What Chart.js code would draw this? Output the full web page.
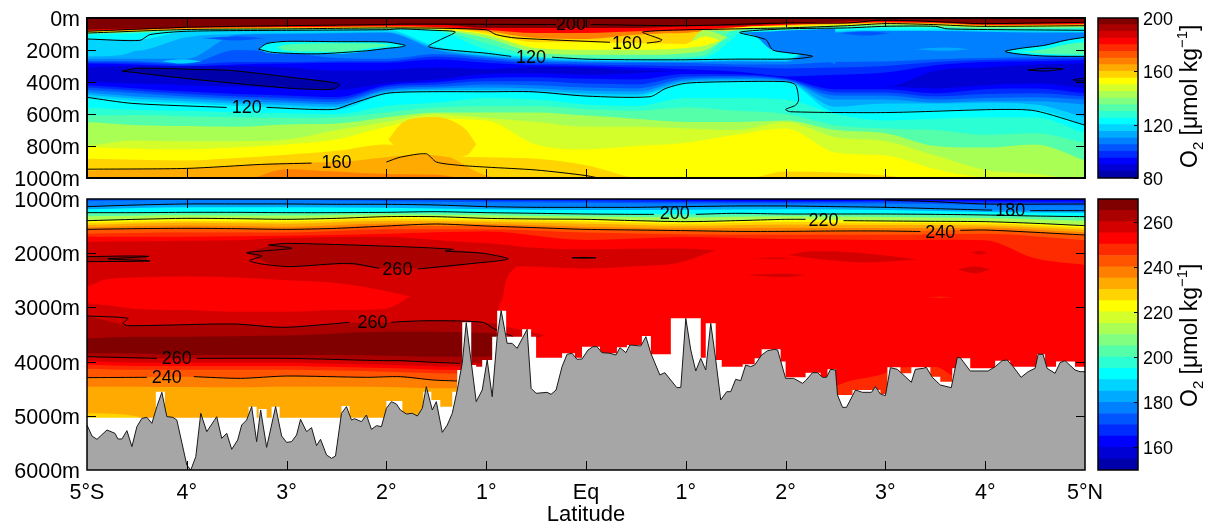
<!DOCTYPE html>
<html>
<head>
<meta charset="utf-8">
<title>O2 section</title>
<script src="https://cdn.jsdelivr.net/npm/chart.js@4"></script>
<style>
  html, body { margin: 0; padding: 0; background: #fff; width: 1215px; height: 524px; overflow: hidden; }
  canvas { position: absolute; }
</style>
</head>
<body>
<canvas id="upperChart" width="1130" height="204" style="left:0px;top:-4px"></canvas>
<canvas id="lowerChart" width="1130" height="347" style="left:0px;top:177px"></canvas>
<canvas id="upperBar" width="123" height="204" style="left:1092px;top:-4px"></canvas>
<canvas id="lowerBar" width="123" height="347" style="left:1092px;top:177px"></canvas>
<script>
// tick labels
const latLabels = ['5°S', '4°', '3°', '2°', '1°', 'Eq', '1°', '2°', '3°', '4°', '5°N'];

// colour levels, 24 steps of 5 umol/kg
const jet24 = ['#0000AA', '#0000D4', '#0000FF', '#002BFF', '#0055FF', '#0080FF', '#00AAFF', '#00D4FF',
    '#00FFFF', '#2BFFD4', '#55FFAA', '#80FF80', '#AAFF55', '#D4FF2B', '#FFFF00', '#FFD400',
    '#FFAA00', '#FF8000', '#FF5500', '#FF2B00', '#FF0000', '#D40000', '#AA0000', '#800000'];
const upperLevels = [80, 200];
const lowerLevels = [150, 270];

// stations, every half degree
const lats = [-5, -4.5, -4, -3.5, -3, -2.5, -2, -1.5, -1, -.5, 0, .5, 1, 1.5, 2, 2.5, 3, 3.5, 4, 4.5, 5];
const wholeLats = [-5, -4, -3, -2, -1, 0, 1, 2, 3, 4, 5];

// upper panel 0-1000m: depth where each colour starts, surface downwards
const up21 = [73, 66, 56, 52, 50, 47, 44, 42, 62, 62, 62, 62, 52, 48, 34, 25, 16, 22, 34, 32, 28];
const up18 = [80, 72, 62, 58, 56, 54, 52, 56, 73, 94, 94, 83, 77, 58, 42, 33, 26, 30, 42, 40, 38];
const up16 = [84, 76, 66, 62, 60, 58, 56, 62, 83, 125, 131, 104, 94, 60, 46, 38, 30, 34, 46, 44, 42];
const up15 = [87, 80, 70, 65, 63, 62, 60, 66, 95, 152, 152, 157, 163, 62, 50, 42, 34, 38, 50, 48, 46];
const up13 = [90, 84, 72, 68, 66, 65, 62, 70, 104, 188, 199, 199, 188, 68, 55, 46, 38, 44, 54, 52, 50];
const up11 = [93, 88, 74, 71, 69, 68, 66, 74, 125, 215, 230, 230, 220, 77, 62, 52, 44, 50, 60, 58, 56];
const up10 = [96, 92, 76, 74, 72, 70, 68, 78, 157, 240, 251, 251, 245, 83, 70, 58, 52, 56, 66, 64, 62];
const up9 = [104, 96, 78, 77, 75, 73, 71, 82, 199, 245, 255, 258, 258, 89, 78, 66, 62, 64, 72, 72, 72];
const up8 = [131, 135, 84, 82, 78, 76, 74, 180, 224, 245, 257, 261, 261, 257, 258, 80, 74, 72, 78, 82, 84];
const up7 = [210, 205, 120, 100, 95, 92, 88, 190, 235, 255, 265, 270, 270, 265, 268, 88, 85, 85, 90, 95, 95];
const up6 = [255, 255, 255, 105, 100, 95, 92, 200, 240, 262, 272, 275, 275, 272, 275, 92, 82, 82, 86, 90, 90];
const up5 = [268, 270, 285, 200, 215, 250, 255, 225, 250, 272, 278, 280, 282, 290, 290, 275, 272, 258, 250, 245, 240];
const up4 = [278, 280, 292, 275, 275, 270, 270, 240, 262, 285, 290, 295, 300, 305, 315, 310, 300, 275, 262, 258, 252];
const up3 = [285, 290, 300, 290, 285, 280, 280, 260, 280, 295, 300, 310, 320, 335, 365, 355, 340, 295, 275, 270, 262];
const up2 = [310, 300, 300, 300, 310, 330, 325, 310, 320, 305, 310, 325, 330, 340, 370, 430, 430, 330, 310, 290, 285];
const down3 = [400, 410, 420, 430, 440, 450, 410, 385, 350, 345, 355, 345, 330, 340, 370, 430, 430, 440, 420, 410, 440];
const down4 = [420, 440, 460, 475, 485, 495, 420, 400, 375, 370, 380, 385, 350, 352, 376, 445, 445, 470, 445, 440, 470];
const down5 = [435, 455, 475, 490, 500, 510, 432, 415, 395, 395, 410, 415, 365, 362, 382, 465, 465, 490, 475, 470, 490];
const down6 = [450, 470, 490, 505, 515, 525, 445, 430, 415, 420, 435, 440, 380, 372, 388, 485, 485, 510, 500, 495, 510];
const down7 = [465, 490, 505, 520, 530, 540, 455, 440, 435, 440, 455, 460, 390, 382, 392, 510, 510, 530, 520, 520, 540];
const down8 = [480, 505, 520, 535, 545, 555, 465, 450, 450, 455, 472, 478, 400, 390, 395, 555, 535, 535, 530, 540, 620];
const down9 = [496, 520, 535, 550, 560, 572, 475, 461, 461, 467, 488, 492, 408, 398, 400, 586, 586, 578, 572, 576, 670];
const down10 = [560, 575, 580, 590, 595, 600, 550, 530, 500, 510, 540, 550, 500, 500, 510, 600, 640, 630, 620, 620, 720];
const down11 = [610, 607, 615, 620, 625, 620, 590, 560, 550, 550, 570, 580, 560, 580, 600, 670, 690, 700, 730, 720, 780];
const down13 = [650, 670, 675, 680, 665, 660, 620, 590, 590, 590, 610, 630, 650, 650, 640, 700, 720, 800, 810, 790, 890];
const down14 = [800, 765, 770, 770, 760, 700, 650, 600, 625, 650, 680, 680, 690, 700, 650, 745, 770, 860, 950, 975, 1020];
const down15 = [806, 817, 820, 810, 790, 760, 680, 630, 640, 790, 820, 800, 780, 730, 690, 840, 860, 945, 1000, 1020, 1020];
const down16 = [880, 886, 890, 875, 855, 830, 790, 860, 870, 880, 920, 1000, 1020, 1020, 960, 965, 985, 1020, 1020, 1020, 1020];
const down17 = [953, 943, 940, 925, 905, 900, 870, 849, 985, 1020, 1020, 1020, 1020, 1020, 1020, 1020, 1020, 1020, 1020, 1020, 1020];
const down18 = [1020, 1020, 1020, 1020, 945, 960, 975, 980, 1020, 1020, 1020, 1020, 1020, 1020, 1020, 1020, 1020, 1020, 1020, 1020, 1020];

// upper panel patches
const tongueLat = [1.55, 1.7, 1.85, 2.0, 2.27, 2.5];
const tongueTop = [92, 88, 84, 78, 72, 66];
const tongueBottom = [92, 115, 195, 215, 238, 290];
const goldHumpLat = [-1.98, -1.85, -1.7, -1.5, -1.35, -1.2, -1.1];
const goldHumpTop = [760, 660, 625, 618, 640, 700, 790];
const goldHumpBottom = [760, 840, 850, 860, 870, 860, 790];
const tip10Lat = [1, 1.2, 1.55];
const tip10Top = [245, 80, 85];
const tip10Bottom = [250, 245, 85];
const tip11Lat = [1, 1.18, 1.45];
const tip11Top = [220, 78, 80];
const tip11Bottom = [245, 235, 80];
const tip13Lat = [1, 1.18, 1.42];
const tip13Top = [188, 75, 120];
const tip13Bottom = [220, 205, 120];
const tip15Lat = [1, 1.2, 1.34];
const tip15Top = [163, 115, 140];
const tip15Bottom = [188, 170, 140];
const tip16Lat = [.7, .85, .98];
const tip16Top = [100, 96, 110];
const tip16Bottom = [118, 128, 110];
const lensALat = [-3.28, -3.2, -3, -2.5, -2, -1.85, -1.81];
const lensATop = [195, 160, 146, 148, 150, 165, 172];
const lensABottom = [195, 215, 222, 224, 190, 182, 172];
const lensAInnerLat = [-3.1, -3, -2.5, -2.1, -1.95];
const lensAInnerTop = [185, 165, 158, 160, 172];
const lensAInnerBottom = [185, 205, 212, 185, 172];
const lensBLat = [4.2, 4.35, 4.6, 4.8, 5];
const lensBTop = [209, 190, 170, 140, 120];
const lensBBottom = [209, 225, 235, 238, 240];
const lensBInnerLat = [4.35, 4.6, 4.8, 5];
const lensBInnerTop = [210, 195, 165, 150];
const lensBInnerBottom = [210, 225, 228, 230];
const patchCyanLat = [-4.25, -4.05, -3.85];
const patchCyanTop = [270, 258, 272];
const patchCyanBottom = [270, 285, 272];
const patchLeftLat = [-5, -4.7, -4.45];
const patchLeftTop = [150, 150, 190];
const patchLeftBottom = [240, 235, 190];
const patchBlueLat = [3.3, 3.6, 3.85];
const patchBlueTop = [195, 185, 195];
const patchBlueBottom = [195, 205, 195];
const patchDarkLat = [2.55, 2.8, 3.05];
const patchDarkTop = [95, 85, 95];
const patchDarkBottom = [95, 110, 95];
const patchDark2Lat = [-3.85, -3.5, -3.2];
const patchDark2Top = [125, 115, 125];
const patchDark2Bottom = [125, 140, 125];
const coreLat = [-4.65, -4.49, -3.87, -3.54, -2.87, -2.54, -2.47];
const coreTop = [332, 314, 322, 329, 377, 400, 419];
const coreBottom = [332, 345, 387, 405, 440, 446, 419];

// upper panel contours, null = gap for the label
const c200Lat = [-5, -4, -3, -2, -1.86, -.3, -.15, .05, 1, 2, 2.62, 2.95, 3.48, 3.95, 5];
const c200Depth = [83, 58, 48, 41, 38, 41, null, 41, 48, 31, 31, 14, 22, 35, 27];
const c160Lat = [-5, -4, -3, -1.86, -1, -.9, -.7, .24, .41, .61, .74, .76, .57, 1.5, 2, 2.62, 3, 3.48, 3.95, 5];
const c160Depth = [94, 72, 68, 62, 73, 104, 125, 152, null, 157, 146, 136, 87, 68, 62, 48, 35, 41, 52, 48];
const c120aLat = [5, 3.62, 3.5, 3, 2.62, 2, 1.54, 1.8, 1.87, 2, 2.2, 2.27, 2.15, 2, 1.5, 1, .5, 0, -.34, -.55, -.75, -1, -1.38, -1.58, -1.46, -1.31, -1.53, -1.86, -2, -3, -4, -4.37, -4.47, -5];
const c120aDepth = [77, 68, 52, 52, 62, 68, 90, 135, 199, 215, 230, 240, 252, 257, 257, 261, 261, 257, 245, null, 240, 220, 199, 178, 136, 87, 77, 68, 73, 77, 83, 104, 140, 131];
const c120bLat = [-5, -4.54, -3.6, -3.4, -3.2, -2.53, -2.34, -2, -1.6, -1, -.53, 0, .64, .8, 1, 1.47, 2, 2.1, 2.13, 2.1, 2, 2.05, 3, 4.12, 4.5, 5];
const c120bDepth = [496, 534, 559, null, 559, 572, 534, 471, 461, 461, 461, 488, 492, 440, 408, 398, 398, 419, 513, 545, 572, 586, 591, 572, 580, 670];
const c160bLat = [-5, -4, -3.25, -2.75, -2.25, -2, -1.86, -1.6, -1.5, -1.28, -1, -.5, 0, .2];
const c160bDepth = [945, 940, 915, 907, null, 900, 870, 849, 900, 920, 932, 950, 985, 1010];
const ringALat = [-3.28, -3.2, -3, -2.5, -2, -1.85, -1.81, -1.87, -2, -2.2, -2.7, -3.14, -3.28];
const ringADepth = [195, 160, 146, 148, 150, 165, 172, 182, 190, 205, 224, 215, 195];
const ringBLat = [-4.65, -4.49, -3.87, -3.54, -2.87, -2.49, -2.47, -2.54, -2.94, -3.87, -4.65];
const ringBDepth = [332, 314, 322, 329, 377, 408, 419, 446, 440, 387, 332];
const ringCLat = [5, 4.8, 4.6, 4.35, 4.2, 4.35, 4.6, 5];
const ringCDepth = [120, 140, 170, 190, 209, 226, 238, 240];
const ringDLat = [4.43, 4.6, 4.78, 4.6, 4.43];
const ringDDepth = [325, 314, 318, 332, 325];
const ringELat = [5, 4.94, 4.88, 4.94, 5];
const ringEDepth = [380, 380, 387, 394, 392];

// lower panel 1000-6000m: thermocline colours on whole degrees
const low3 = [990, 990, 990, 990, 990, 990, 1005, 1020, 1005, 1015, 1020];
const low4 = [990, 990, 990, 990, 1000, 1005, 1030, 1040, 1030, 1040, 1045];
const low5 = [990, 990, 990, 1000, 1030, 1040, 1055, 1060, 1050, 1070, 1075];
const low6 = [1040, 1020, 1020, 1040, 1060, 1070, 1085, 1085, 1085, 1110, 1120];
const low7 = [1141, 1092, 1092, 1098, 1141, 1154, 1141, 1129, 1154, 1203, 1215];
const low9 = [1190, 1150, 1150, 1160, 1190, 1205, 1200, 1190, 1205, 1240, 1255];
const low11 = [1252, 1246, 1252, 1246, 1252, 1277, 1283, 1277, 1277, 1295, 1326];
const low13 = [1320, 1300, 1305, 1285, 1300, 1325, 1340, 1320, 1330, 1350, 1400];
const low15 = [1400, 1357, 1375, 1326, 1357, 1375, 1418, 1375, 1406, 1418, 1492];
const low16 = [1440, 1400, 1415, 1360, 1385, 1415, 1455, 1420, 1445, 1450, 1530];
const low17 = [1480, 1440, 1455, 1400, 1420, 1455, 1495, 1470, 1480, 1490, 1570];
const low18 = [1520, 1490, 1510, 1450, 1460, 1510, 1540, 1530, 1535, 1530, 1615];
const low19 = [1560, 1541, 1560, 1498, 1498, 1560, 1584, 1597, 1590, 1572, 1664];
const low20 = [1640, 1620, 1620, 1560, 1560, 1620, 1650, 1660, 1660, 1640, 1760];
const low21Lat = [-5, -4, -3, -2, -1, 0, 1, 2, 3, 3.5, 4, 4.5, 5];
const low21Depth = [1695, 1695, 1680, 1640, 1600, 1756, 1700, 1740, 1756, 1750, 1760, 2095, 2217];

// lower panel west side, deep water
const westLat = [-5, -4.5, -4, -3.5, -3, -2.5, -2, -1.5, -1, -.9, -.88, -.85, -.8, -.7];
const westTop = [1790, 1780, 1770, 1760, 1720, 1700, 1695, 1756, 1818, 1830, 1835, 1840, 1850, 1870];
const westBottom = [7000, 7000, 7000, 7000, 7000, 7000, 7000, 7000, 7000, 7000, 3100, 2900, 2500, 2240];
const westRedLat = [-5, -4.8, -4.5, -4, -3.5, -3, -2.5, -2, -1.76];
const westRedTop = [2620, 2480, 2450, 2430, 2450, 2500, 2550, 2700, 2800];
const westRedBottom = [2925, 2960, 3030, 3050, 3080, 3080, 3050, 3020, 2800];
const deepLat = [-5, -4.5, -4, -3.5, -3, -2.5, -2, -1.5, -.9];
const deep23 = [3158, 3337, 3320, 3306, 3368, 3300, 3276, 3245, 3300];
const deep24 = [3570, 3540, 3540, 3530, 3520, 3480, 3450, 3450, 3480];
const deep23b = [3847, 3850, 3878, 3878, 3878, 3878, 3890, 3909, 3909];
const deep22 = [3909, 3940, 3940, 3940, 3940, 3950, 3980, 4013, 4030];
const deep21 = [3990, 4020, 4020, 4020, 4020, 4040, 4060, 4090, 4100];
const deep20 = [4060, 4080, 4080, 4080, 4080, 4100, 4120, 4150, 4160];
const deep19 = [4130, 4150, 4150, 4150, 4150, 4165, 4185, 4215, 4230];
const deep18 = [4296, 4290, 4278, 4309, 4266, 4285, 4280, 4340, 4358];
const deep17 = [4462, 4462, 4470, 4475, 4462, 4462, 4470, 4493, 4493];
const deep16 = [4954, 5010, 7000, 7000, 7000, 7000, 7000, 7000, 7000];
const tongueRedLat = [-.9, -.7, -.41];
const tongueRedTop = [3300, 3400, 3510];
const tongueRedBottom = [3800, 3700, 3510];

// lower panel lenses
const eqLensLat = [-1, -.7, -.5, 0, .5, .93, 1.3];
const eqLensTop = [1818, 1870, 1900, 1929, 1920, 1915, 1945];
const eqLensBottom = [2250, 2240, 2250, 2280, 2240, 2175, 1945];
const midLensLat = [-3.4, -3.18, -3, -2.5, -2, -1.5, -1.03, -.78];
const midLensTop = [1990, 1870, 1818, 1840, 1870, 1920, 2002, 2107];
const midLensBottom = [1990, 2190, 2248, 2200, 2279, 2270, 2170, 2107];
const leftLensLat = [-5, -4.8, -4.4];
const leftLensTop = [2064, 2058, 2050];
const leftLensBottom = [2156, 2150, 2146];
const eastP1Lat = [2.02, 2.28, 2.78, 3.32];
const eastP1Top = [2030, 1960, 2000, 2115];
const eastP1Bottom = [2030, 2100, 2170, 2115];
const eastP2Lat = [1.6, 2, 2.2];
const eastP2Top = [2400, 2380, 2400];
const eastP2Bottom = [2400, 2440, 2400];
const eastP3Lat = [3.72, 3.9, 4.05];
const eastP3Top = [2300, 2245, 2300];
const eastP3Bottom = [2300, 2370, 2300];
const eastP4Lat = [3.85, 3.95, 4.02];
const eastP4Top = [1990, 1960, 1990];
const eastP4Bottom = [1990, 2020, 1990];
const eastP5Lat = [1.67, 1.9, 2.1];
const eastP5Top = [2095, 2080, 2095];
const eastP5Bottom = [2095, 2110, 2095];
const eastP6Lat = [3.4, 3.55, 3.68];
const eastP6Top = [2815, 2805, 2815];
const eastP6Bottom = [2815, 2825, 2815];
const floorOrangeLat = [2.45, 2.6, 3, 3.1, 3.5, 3.7];
const floorOrangeTop = [4500, 4380, 4210, 4110, 4100, 4300];
const floorOrangeBottom = [4700, 4700, 4700, 4700, 4700, 4700];

// lower panel contours
const c170LowLat = [3, 3.5, 4, 5];
const c170LowDepth = [1018, 1050, 1092, 1092];
const c180LowLat = [-5, -4.5, -4, -3.5, -3, -2.5, -2, -1.5, -1, -.5, 0, .5, 1, 1.5, 2, 2.5, 3, 3.5, 4, 4.07, 4.25, 4.45, 5];
const c180LowDepth = [1141, 1111, 1092, 1092, 1092, 1098, 1098, 1111, 1141, 1154, 1154, 1154, 1141, 1129, 1129, 1141, 1154, 1178, 1203, 1205, null, 1215, 1215];
const c200LowLat = [-5, -4.5, -4, -3.5, -3, -2.5, -2, -1.5, -1, -.5, 0, .5, .68, .9, 1.1, 1.5, 2, 2.5, 3, 3.5, 4, 4.5, 5];
const c200LowDepth = [1252, 1252, 1246, 1246, 1252, 1252, 1246, 1234, 1252, 1264, 1277, 1283, 1283, null, 1283, 1264, 1277, 1277, 1277, 1283, 1295, 1314, 1326];
const c220LowLat = [-5, -4.5, -4, -3.5, -3, -2.5, -2, -1.5, -1, -.5, 0, .5, 1, 1.5, 2, 2.2, 2.38, 2.58, 3, 3.5, 4, 4.5, 5];
const c220LowDepth = [1400, 1375, 1357, 1363, 1375, 1357, 1326, 1326, 1357, 1369, 1375, 1400, 1418, 1400, 1375, 1375, null, 1400, 1406, 1412, 1418, 1449, 1492];
const c240LowLat = [-5, -4.5, -4, -3.5, -3, -2.5, -2, -1.5, -1, -.5, 0, .5, 1, 1.5, 2, 2.5, 3, 3.35, 3.55, 3.75, 4, 4.5, 5];
const c240LowDepth = [1560, 1547, 1541, 1547, 1560, 1541, 1498, 1461, 1498, 1529, 1560, 1572, 1584, 1597, 1597, 1590, 1590, 1600, null, 1578, 1572, 1615, 1664];
const c260aLat = [-5, -4.59, -4.64, -4.59, -3.53, -3.03, -2.37, -2.14, -1.95, -1.86, -1.53, -1.03, -.93, -.73];
const c260aDepth = [3158, 3201, 3294, 3337, 3306, 3368, 3276, null, 3276, 3263, 3245, 3276, 3386, 3540];
const c260bLat = [-5, -4.3, -4.1, -3.9, -3, -2.03, -1.86, -1.53, -1.26];
const c260bDepth = [3909, 3940, null, 3940, 3940, 3983, 3983, 4013, 4032];
const c240bLat = [-5, -4.4, -4.2, -3.93, -3.46, -3, -2.2, -1.86, -1.53, -1.29];
const c240bDepth = [4296, 4290, null, 4278, 4309, 4266, 4290, 4278, 4340, 4358];
const ringFLat = [-3.18, -3, -1.86, -1.33, -1.41, -1.03, -.78, -1.19, -1.69, -1.89, -2.07, -2.37, -2.97, -3.25, -3.37, -3.25, -3.4, -2.95, -3.18];
const ringFDepth = [1849, 1818, 1879, 1929, 1959, 2002, 2107, 2199, 2292, null, 2279, 2187, 2248, 2199, 2138, 2052, 1990, 1910, 1849];
const ringGLat = [-5, -4.6, -4.38, -4.6, -4.79];
const ringGDepth = [2064, 2052, 2058, 2085, 2100];
const ringHLat = [-4.79, -4.37, -5];
const ringHDepth = [2107, 2144, 2156];
const ringILat = [-.14, 0, .1, 0, -.14];
const ringIDepth = [2085, 2078, 2085, 2092, 2085];

// edge of the sampled field, each depth holds until the next latitude
const fieldLat = [-5, -4.31, -4.22, -3.38, -3.3, -3.28, -3.2, -3.15, -3.07, -2.45, -2.37, -2, -1.84, -1.63, -1.55, -1.46, -1.34, -1.29, -1.24, -1.15, -1.1, -1.04, -.94, -.89, -.8, -.64, -.55, -.5, -.24, -.11, -.04, .14, .31, .41, .56, .65, .85, 1.15, 1.2, 1.3, 1.36, 1.57, 1.69, 1.76, 1.95, 2, 2.2, 2.35, 2.42, 2.5, 2.67, 2.95, 3.02, 3.15, 3.26, 3.45, 3.55, 3.67, 3.72, 3.85, 4.1, 4.25, 4.52, 4.6, 4.71, 4.9, 5];
const fieldDepth = [5034, 4555, 5034, 4831, 5034, 4875, 5034, 4831, 5034, 4820, 5034, 4727, 5016, 4555, 4708, 4831, 4555, 4155, 3276, 4063, 4093, 3970, 3540, 3060, 3540, 3405, 3540, 3927, 3847, 3927, 3724, 3847, 3737, 3694, 3527, 3866, 3202, 3927, 3294, 3970, 4093, 4050, 3940, 3774, 4000, 4290, 4204, 4290, 4143, 4616, 4524, 4598, 4106, 4216, 4106, 4278, 4370, 4124, 3940, 4124, 3983, 4093, 3866, 4093, 4000, 4093, 4093];

// sea floor
const floorLat = [-5, -4.95, -4.9, -4.8, -4.72, -4.69, -4.65, -4.6, -4.55, -4.5, -4.45, -4.4, -4.35, -4.3, -4.25, -4.2, -4.14, -4.1, -4, -3.96, -3.91, -3.86, -3.8, -3.7, -3.65, -3.6, -3.55, -3.49, -3.45, -3.4, -3.35, -3.3, -3.26, -3.2, -3.11, -3.05, -3, -2.95, -2.9, -2.86, -2.8, -2.75, -2.7, -2.66, -2.6, -2.55, -2.51, -2.45, -2.4, -2.35, -2.32, -2.25, -2.2, -2.15, -2.1, -2.05, -2, -1.95, -1.9, -1.86, -1.8, -1.74, -1.69, -1.64, -1.6, -1.54, -1.5, -1.44, -1.39, -1.34, -1.29, -1.24, -1.2, -1.14, -1.1, -1.04, -.99, -.94, -.89, -.85, -.79, -.74, -.69, -.59, -.55, -.5, -.39, -.35, -.3, -.24, -.19, -.14, -.09, -.04, .02, .07, .11, .16, .24, .3, .34, .4, .44, .55, .6, .65, .74, .79, .91, .95, 1, 1.05, 1.1, 1.15, 1.2, 1.25, 1.3, 1.35, 1.41, 1.45, 1.5, 1.55, 1.6, 1.65, 1.69, 1.76, 1.82, 1.89, 1.92, 2, 2.08, 2.17, 2.2, 2.27, 2.32, 2.37, 2.41, 2.45, 2.5, 2.52, 2.57, 2.61, 2.7, 2.77, 2.86, 2.9, 2.95, 3, 3.05, 3.12, 3.26, 3.3, 3.38, 3.41, 3.47, 3.55, 3.66, 3.72, 3.75, 3.85, 4.03, 4.1, 4.17, 4.22, 4.28, 4.36, 4.43, 4.5, 4.53, 4.58, 4.62, 4.7, 4.75, 4.8, 4.9, 4.95, 5];
const floorDepth = [5170, 5373, 5434, 5262, 5323, 5428, 5428, 5274, 5569, 5200, 5047, 5028, 5139, 4831, 4567, 5015, 5028, 5077, 5908, 6000, 5754, 4954, 5293, 5016, 5416, 5323, 5618, 5446, 5170, 5077, 4831, 5477, 4893, 5582, 4831, 5373, 5490, 5477, 5354, 5065, 5293, 5219, 5551, 5434, 5723, 5784, 5742, 4954, 4831, 5077, 5053, 5108, 4985, 5250, 5182, 5200, 4862, 4739, 4782, 4893, 4967, 4954, 5004, 4862, 4462, 4893, 4739, 5305, 5170, 4954, 4524, 4032, 3282, 4155, 4739, 4524, 3970, 4647, 3540, 3061, 3663, 3663, 3755, 3405, 4493, 4585, 4567, 4604, 4524, 4093, 3866, 3847, 3958, 3952, 3786, 3724, 3724, 3835, 3847, 3878, 3743, 3835, 3694, 3712, 3540, 3847, 4247, 4204, 4481, 4475, 3202, 3786, 4173, 3940, 4155, 3294, 3970, 4708, 4555, 4555, 4327, 4352, 4063, 4093, 4063, 3878, 3798, 3774, 3786, 4309, 4309, 4401, 4352, 4204, 4204, 4290, 4290, 4143, 4155, 4616, 4844, 4844, 4524, 4567, 4567, 4462, 4598, 4628, 4112, 4143, 4382, 4143, 4124, 4106, 4290, 4432, 4481, 3927, 3927, 4173, 4173, 4093, 3983, 3970, 4093, 4290, 4186, 4124, 3866, 3866, 4124, 4216, 4020, 3983, 4155, 4186, 4186];

const fontName = '"Liberation Sans", Arial, sans-serif';

function pts(xs, ys) {
    return xs.map((x, i) => ({ x: x, y: ys[i] }));
}

// builds the painter's stack for one panel, later datasets go over earlier ones
function makeLayers(axisMax) {
    const sets = [];
    function push(ds) {
        ds.order = 5000 - sets.length;
        ds.pointRadius = 0;
        ds.pointHoverRadius = 0;
        sets.push(ds);
        return sets.length - 1;
    }
    return {
        sets: sets,
        band(xs, tops, level) {
            push({
                data: pts(xs, tops), borderWidth: 0, backgroundColor: jet24[level - 1],
                fill: { value: axisMax }, cubicInterpolationMode: 'monotone'
            });
        },
        patch(xs, tops, bottoms, level) {
            const under = push({
                data: pts(xs, bottoms), borderWidth: 0, fill: false,
                cubicInterpolationMode: 'monotone'
            });
            push({
                data: pts(xs, tops), borderWidth: 0, backgroundColor: jet24[level - 1],
                fill: under, cubicInterpolationMode: 'monotone'
            });
        },
        contour(xs, ys) {
            push({ data: pts(xs, ys), borderColor: '#000', borderWidth: 1, fill: false, tension: 0.25 });
        },
        raw(ds) {
            push(ds);
        }
    };
}

// inner ticks, frame and contour labels go on top of the datasets
function framePlugin(xTicks, yTicks, labels, frameWidth, onlyRight) {
    return {
        id: 'frameTicks',
        afterDraw(chart) {
            const ctx = chart.ctx;
            const a = chart.chartArea;
            ctx.save();
            ctx.strokeStyle = '#000';
            ctx.lineWidth = 1;
            ctx.beginPath();
            xTicks.forEach(v => {
                const px = Math.round(chart.scales.x.getPixelForValue(v)) + 0.5;
                ctx.moveTo(px, a.top);
                ctx.lineTo(px, a.top + 9);
                ctx.moveTo(px, a.bottom);
                ctx.lineTo(px, a.bottom - 9);
            });
            yTicks.forEach(v => {
                const py = Math.round(chart.scales.y.getPixelForValue(v)) + 0.5;
                if (!onlyRight) {
                    ctx.moveTo(a.left, py);
                    ctx.lineTo(a.left + 9, py);
                    ctx.moveTo(a.right, py);
                    ctx.lineTo(a.right - 9, py);
                } else {
                    ctx.moveTo(a.right, py);
                    ctx.lineTo(a.right - 4, py);
                }
            });
            ctx.stroke();
            ctx.lineWidth = frameWidth;
            ctx.strokeRect(a.left, a.top, a.right - a.left, a.bottom - a.top);
            ctx.fillStyle = '#000';
            ctx.font = '18px ' + fontName;
            ctx.textAlign = 'center';
            ctx.textBaseline = 'middle';
            labels.forEach(l => {
                ctx.fillText(l[2], chart.scales.x.getPixelForValue(l[0]), chart.scales.y.getPixelForValue(l[1]));
            });
            ctx.restore();
        }
    };
}

function sectionChart(id, layers, yMin, yMax, yStep, showLabels, pad, yTicks, labels) {
    const xTicks = [-4, -3, -2, -1, 0, 1, 2, 3, 4];
    return new Chart(document.getElementById(id), {
        type: 'line',
        data: { datasets: layers.sets },
        options: {
            responsive: false,
            animation: false,
            events: [],
            spanGaps: false,
            layout: { padding: pad },
            plugins: { legend: { display: false }, tooltip: { enabled: false } },
            scales: {
                x: {
                    type: 'linear', min: -5, max: 5,
                    grid: { display: false, drawTicks: false },
                    border: { display: false },
                    afterFit(s) { s.height = showLabels ? 54 : 0; },
                    ticks: {
                        display: showLabels, stepSize: 1, autoSkip: false, maxRotation: 0, padding: 10,
                        color: '#000', font: { family: fontName, size: 21.5 },
                        callback: v => latLabels[v + 5]
                    },
                    title: {
                        display: showLabels, text: 'Latitude', color: '#000',
                        padding: { top: 0, bottom: -4 },
                        font: { family: fontName, size: 22 }
                    }
                },
                y: {
                    min: yMin, max: yMax, reverse: true,
                    grid: { display: false, drawTicks: false },
                    border: { display: false },
                    afterFit(s) { s.width = 87; },
                    ticks: {
                        stepSize: yStep, padding: 7, color: '#000', labelOffset: 2,
                        font: { family: fontName, size: 21.5 },
                        callback: v => v + 'm'
                    }
                }
            }
        },
        plugins: [framePlugin(xTicks, yTicks, labels, showLabels ? 1.5 : 2, false)]
    });
}

function colorBar(id, levels, tickStep, pad, titleBottom) {
    const step = (levels[1] - levels[0]) / jet24.length;
    const yTicks = [];
    for (let v = levels[0] + (levels[0] % tickStep ? tickStep - levels[0] % tickStep : 0); v <= levels[1]; v += tickStep) {
        yTicks.push(v);
    }
    const titlePlugin = {
        id: 'barTitle',
        afterDraw(chart) {
            const ctx = chart.ctx;
            ctx.save();
            ctx.translate(105, titleBottom);
            ctx.rotate(-Math.PI / 2);
            ctx.fillStyle = '#000';
            ctx.textBaseline = 'alphabetic';
            let x = 0;
            function put(text, size, rise) {
                ctx.font = size + 'px ' + fontName;
                ctx.fillText(text, x, -rise);
                x += ctx.measureText(text).width;
            }
            put('O', 23, 0);
            put('2', 15, -6);
            put(' [μmol kg', 23, 0);
            put('−1', 15, 10);
            put(']', 23, 0);
            ctx.restore();
        }
    };
    return new Chart(document.getElementById(id), {
        type: 'bar',
        data: {
            labels: [''],
            datasets: jet24.map(c => ({
                data: [step], backgroundColor: c, stack: 'levels',
                barPercentage: 1, categoryPercentage: 1, borderWidth: 0
            }))
        },
        options: {
            responsive: false,
            animation: false,
            events: [],
            layout: { padding: pad },
            plugins: { legend: { display: false }, tooltip: { enabled: false } },
            scales: {
                x: { display: false, stacked: true },
                y: {
                    position: 'right', stacked: true,
                    min: 0, max: levels[1] - levels[0],
                    grid: { display: false, drawTicks: false },
                    border: { display: false },
                    afterFit(s) { s.width = 77; },
                    afterBuildTicks(s) {
                        s.ticks = yTicks.map(v => ({ value: v - levels[0] }));
                    },
                    ticks: {
                        padding: 5, color: '#000', autoSkip: false, labelOffset: 2,
                        font: { family: fontName, size: 18 },
                        callback: v => v + levels[0]
                    }
                }
            }
        },
        plugins: [titlePlugin, framePlugin([], yTicks.map(v => v - levels[0]), [], 1.5, true)]
    });
}

// upper panel
const upper = makeLayers(1000);
upper.band([-5, 5], [-100, -100], 24);
upper.band(lats, up21, 21);
upper.band(lats, up18, 18);
upper.band(lats, up16, 16);
upper.band(lats, up15, 15);
upper.band(lats, up13, 13);
upper.band(lats, up11, 11);
upper.band(lats, up10, 10);
upper.band(lats, up9, 9);
upper.band(lats, up8, 8);
upper.band(lats, up7, 7);
upper.band(lats, up6, 6);
upper.band(lats, up5, 5);
upper.band(lats, up4, 4);
upper.band(lats, up3, 3);
upper.band(lats, up2, 2);
upper.band(lats, down3, 3);
upper.band(lats, down4, 4);
upper.band(lats, down5, 5);
upper.band(lats, down6, 6);
upper.band(lats, down7, 7);
upper.band(lats, down8, 8);
upper.band(lats, down9, 9);
upper.band(lats, down10, 10);
upper.band(lats, down11, 11);
upper.band(lats, down13, 13);
upper.band(lats, down14, 14);
upper.band(lats, down15, 15);
upper.band(lats, down16, 16);
upper.band(lats, down17, 17);
upper.band(lats, down18, 18);
upper.patch(goldHumpLat, goldHumpTop, goldHumpBottom, 16);
upper.patch(tip10Lat, tip10Top, tip10Bottom, 10);
upper.patch(tip11Lat, tip11Top, tip11Bottom, 11);
upper.patch(tip13Lat, tip13Top, tip13Bottom, 13);
upper.patch(tip15Lat, tip15Top, tip15Bottom, 15);
upper.patch(tip16Lat, tip16Top, tip16Bottom, 16);
upper.patch(tongueLat, tongueTop, tongueBottom, 6);
upper.patch(lensALat, lensATop, lensABottom, 9);
upper.patch(lensAInnerLat, lensAInnerTop, lensAInnerBottom, 11);
upper.patch(lensBLat, lensBTop, lensBBottom, 9);
upper.patch(lensBInnerLat, lensBInnerTop, lensBInnerBottom, 11);
upper.patch(patchLeftLat, patchLeftTop, patchLeftBottom, 8);
upper.patch(patchCyanLat, patchCyanTop, patchCyanBottom, 8);
upper.patch(patchBlueLat, patchBlueTop, patchBlueBottom, 7);
upper.patch(patchDarkLat, patchDarkTop, patchDarkBottom, 5);
upper.patch(patchDark2Lat, patchDark2Top, patchDark2Bottom, 5);
upper.patch(coreLat, coreTop, coreBottom, 1);
upper.contour(c200Lat, c200Depth);
upper.contour(c160Lat, c160Depth);
upper.contour(c120aLat, c120aDepth);
upper.contour(c120bLat, c120bDepth);
upper.contour(c160bLat, c160bDepth);
upper.contour(ringALat, ringADepth);
upper.contour(ringBLat, ringBDepth);
upper.contour(ringCLat, ringCDepth);
upper.contour(ringDLat, ringDDepth);
upper.contour(ringELat, ringEDepth);

// lower panel
const lower = makeLayers(6000);
lower.band([-5, 5], [900, 900], 2);
lower.band(wholeLats, low3, 3);
lower.band(wholeLats, low4, 4);
lower.band(wholeLats, low5, 5);
lower.band(wholeLats, low6, 6);
lower.band(wholeLats, low7, 7);
lower.band(wholeLats, low9, 9);
lower.band(wholeLats, low11, 11);
lower.band(wholeLats, low13, 13);
lower.band(wholeLats, low15, 15);
lower.band(wholeLats, low16, 16);
lower.band(wholeLats, low17, 17);
lower.band(wholeLats, low18, 18);
lower.band(wholeLats, low19, 19);
lower.band(wholeLats, low20, 20);
lower.band(low21Lat, low21Depth, 21);
lower.patch(floorOrangeLat, floorOrangeTop, floorOrangeBottom, 20);
lower.patch(eastP1Lat, eastP1Top, eastP1Bottom, 22);
lower.patch(eastP2Lat, eastP2Top, eastP2Bottom, 22);
lower.patch(eastP3Lat, eastP3Top, eastP3Bottom, 22);
lower.patch(eastP4Lat, eastP4Top, eastP4Bottom, 22);
lower.patch(eastP5Lat, eastP5Top, eastP5Bottom, 22);
lower.patch(eastP6Lat, eastP6Top, eastP6Bottom, 20);
lower.patch(eqLensLat, eqLensTop, eqLensBottom, 22);
lower.patch(westLat, westTop, westBottom, 22);
lower.patch(tongueRedLat, tongueRedTop, tongueRedBottom, 22);
lower.patch(midLensLat, midLensTop, midLensBottom, 23);
lower.patch(leftLensLat, leftLensTop, leftLensBottom, 23);
lower.patch(westRedLat, westRedTop, westRedBottom, 21);
lower.band(deepLat, deep23, 23);
lower.band(deepLat, deep24, 24);
lower.band(deepLat, deep23b, 23);
lower.band(deepLat, deep22, 22);
lower.band(deepLat, deep21, 21);
lower.band(deepLat, deep20, 20);
lower.band(deepLat, deep19, 19);
lower.band(deepLat, deep18, 18);
lower.band(deepLat, deep17, 17);
lower.band(deepLat, deep16, 16);
lower.contour(c170LowLat, c170LowDepth);
lower.contour(c180LowLat, c180LowDepth);
lower.contour(c200LowLat, c200LowDepth);
lower.contour(c220LowLat, c220LowDepth);
lower.contour(c240LowLat, c240LowDepth);
lower.contour(c260aLat, c260aDepth);
lower.contour(c260bLat, c260bDepth);
lower.contour(c240bLat, c240bDepth);
lower.contour(ringFLat, ringFDepth);
lower.contour(ringGLat, ringGDepth);
lower.contour(ringHLat, ringHDepth);
lower.contour(ringILat, ringIDepth);
lower.raw({
    data: pts(fieldLat, fieldDepth), borderWidth: 0, backgroundColor: '#FFFFFF',
    fill: { value: 6000 }, stepped: true
});
lower.raw({
    data: pts(floorLat, floorDepth), borderColor: '#1A1A1A', borderWidth: 1, backgroundColor: '#A6A6A6',
    fill: { value: 6000 }, tension: 0
});

sectionChart('upperChart', upper, 0, 1000, 200, false,
    { top: 22, bottom: 22, left: 0, right: 45 }, [200, 400, 600, 800],
    [[-.15, 41, '200'], [.41, 161, '160'], [-.55, 251, '120'], [-3.4, 565, '120'], [-2.5, 907, '160']]);
sectionChart('lowerChart', lower, 1000, 6000, 1000, true,
    { top: 22, bottom: 0, left: 0, right: 45 }, [2000, 3000, 4000, 5000],
    [[.89, 1283, '200'], [2.38, 1400, '220'], [3.55, 1621, '240'], [4.25, 1221, '180'],
     [-1.89, 2310, '260'], [-2.14, 3282, '260'], [-4.1, 3952, '260'], [-4.2, 4296, '240']]);
colorBar('upperBar', upperLevels, 40, { top: 22, bottom: 22, left: 6, right: 0 }, 172);
colorBar('lowerBar', lowerLevels, 20, { top: 22, bottom: 54, left: 6, right: 0 }, 230);
</script>
</body>
</html>
